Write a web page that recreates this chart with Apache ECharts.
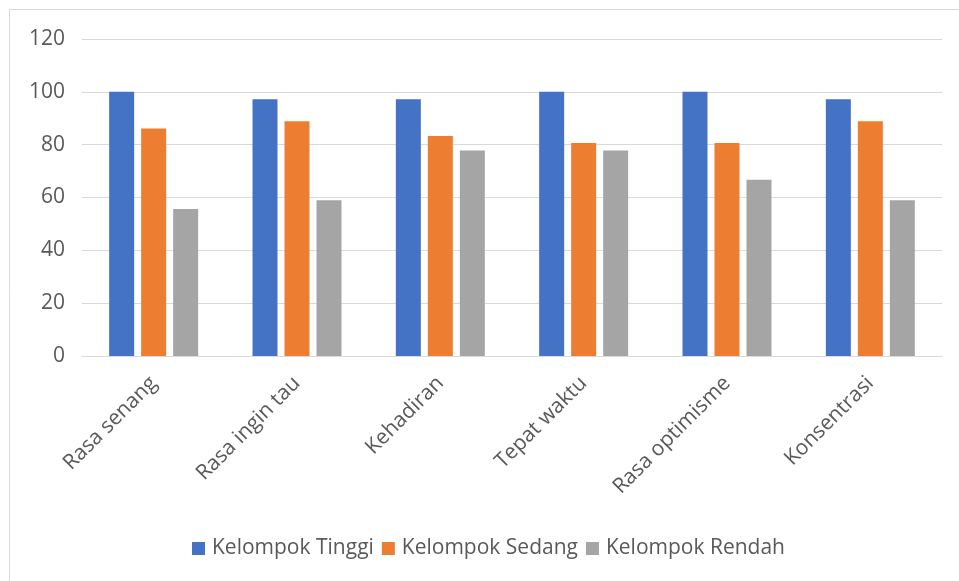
<!DOCTYPE html>
<html>
<head>
<meta charset="utf-8">
<script src="https://cdn.jsdelivr.net/npm/echarts@6/dist/echarts.min.js"></script>
<style>
  html, body { margin: 0; padding: 0; background: #fff; }
  #chart { width: 959px; height: 581px; }
</style>
</head>
<body>
<div id="chart"></div>
<script>
// data
const categories = ['Rasa senang', 'Rasa ingin tau', 'Kehadiran', 'Tepat waktu', 'Rasa optimisme', 'Konsentrasi']
const seriesNames = ['Kelompok Tinggi', 'Kelompok Sedang', 'Kelompok Rendah']
const tinggi = [100, 97.2, 97.2, 100, 100, 97.2]
const sedang = [86.1, 88.9, 83.3, 80.6, 80.6, 88.9]
const rendah = [55.6, 59, 77.8, 77.8, 66.7, 59]
const yTicks = [0, 20, 40, 60, 80, 100, 120]

const colors = ['#4472c4', '#ed7d31', '#a5a5a5']
const font = '"Open Sans", "Noto Sans", sans-serif'

const chart = echarts.init(document.getElementById('chart'))

const option = {
  animation: false,
  color: colors,
  textStyle: { fontFamily: font },
  graphic: [{
    type: 'rect',
    shape: { x: 9.5, y: 9.5, width: 980, height: 600 },
    style: { fill: 'none', stroke: '#d9d9d9', lineWidth: 1 },
    silent: true
  }],
  grid: {
    left: 82,
    right: 17,
    top: 39,
    bottom: 225
  },
  legend: {
    data: seriesNames,
    bottom: 17,
    left: 187,
    itemWidth: 13,
    itemHeight: 13,
    itemGap: 8,
    icon: 'rect',
    textStyle: { fontSize: 21, color: '#595959', fontFamily: font, padding: [0, 0, 0, 2] }
  },
  xAxis: {
    type: 'category',
    data: categories,
    axisLine: { lineStyle: { color: '#d9d9d9', width: 1 } },
    axisTick: { show: false },
    axisLabel: {
      rotate: 45,
      interval: 0,
      fontSize: 21,
      color: '#595959',
      margin: 24,
      fontFamily: font
    }
  },
  yAxis: {
    type: 'value',
    min: yTicks[0],
    max: yTicks[yTicks.length - 1],
    interval: 20,
    axisLine: { show: false },
    axisTick: { show: false },
    splitLine: { lineStyle: { color: '#d9d9d9', width: 1 } },
    axisLabel: { fontSize: 21, color: '#595959', margin: 17, fontFamily: font }
  },
  series: [
    { name: seriesNames[0], type: 'bar', data: tinggi, barWidth: 25, barGap: '28%' },
    { name: seriesNames[1], type: 'bar', data: sedang, barWidth: 25, barGap: '28%' },
    { name: seriesNames[2], type: 'bar', data: rendah, barWidth: 25, barGap: '28%' }
  ]
}

chart.setOption(option)
</script>
</body>
</html>
